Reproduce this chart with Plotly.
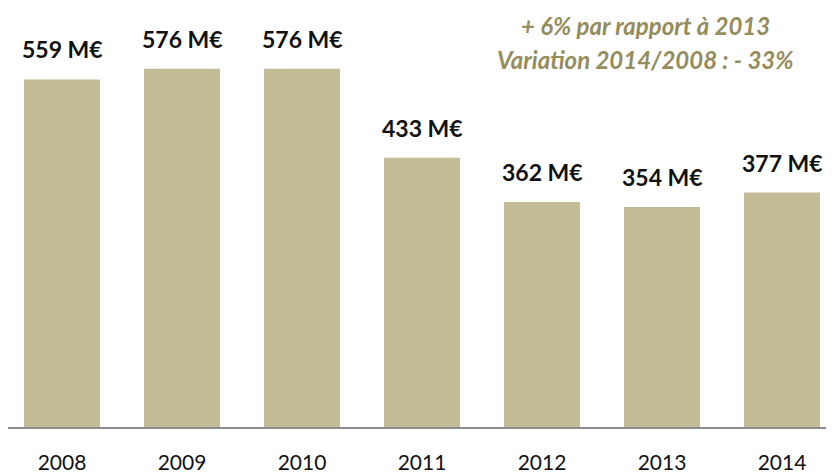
import plotly.graph_objects as go

years = ["2008", "2009", "2010", "2011", "2012", "2013", "2014"]
values = [559, 576, 576, 433, 362, 354, 377]
labels = ["559 M€", "576 M€", "576 M€", "433 M€", "362 M€", "354 M€", "377 M€"]
note_lines = ["+ 6% par rapport à 2013", "Variation 2014/2008 : - 33%"]

BAR = "#C4BC97"
NOTE = "#958C5C"
FONT = "Lato, Carlito, 'Open Sans', sans-serif"

# page has an 8px body margin; figure is sized to fit the 834x474 window
W, H = 826, 466
OFF = 8
BASE = 430.5 - OFF + 3.5    # baseline in figure px (empirical correction)
PLOT_H = BASE               # t=0

fig = go.Figure(go.Bar(
    x=list(range(len(years))), y=values,
    marker=dict(color=BAR, line=dict(width=0)),
    width=0.633,
    hoverinfo="skip",
))

for i, (v, t) in enumerate(zip(values, labels)):
    fig.add_annotation(x=i, y=v, text=f"<b>{t}</b>", showarrow=False,
                       yanchor="middle", yshift=30,
                       font=dict(family=FONT, size=23, color="#111111"))

for line, ypx in zip(note_lines, [26, 60]):
    fig.add_annotation(xref="paper", yref="paper",
                       x=(645 - OFF) / W, y=(BASE + OFF - ypx) / PLOT_H,
                       text=f"<b><i>{line}</i></b>", showarrow=False,
                       xanchor="center", yanchor="middle",
                       font=dict(family=FONT, size=24, color=NOTE))

fig.update_layout(
    width=W, height=H,
    margin=dict(l=0, r=0, t=0, b=H - BASE),
    paper_bgcolor="white", plot_bgcolor="white",
    showlegend=False,
    xaxis=dict(
        range=[-0.45, -0.45 + W / 120],
        tickmode="array", tickvals=list(range(len(years))), ticktext=years,
        showline=True, linecolor="#8C8C8C", linewidth=2,
        ticks="outside", ticklen=16, tickcolor="rgba(0,0,0,0)",
        tickfont=dict(family=FONT, size=21, color="#111111"),
        showgrid=False, zeroline=False, fixedrange=True,
    ),
    yaxis=dict(range=[0, (PLOT_H - 3.5) / 0.627], visible=False, fixedrange=True),
)

fig.write_html("out.html")
